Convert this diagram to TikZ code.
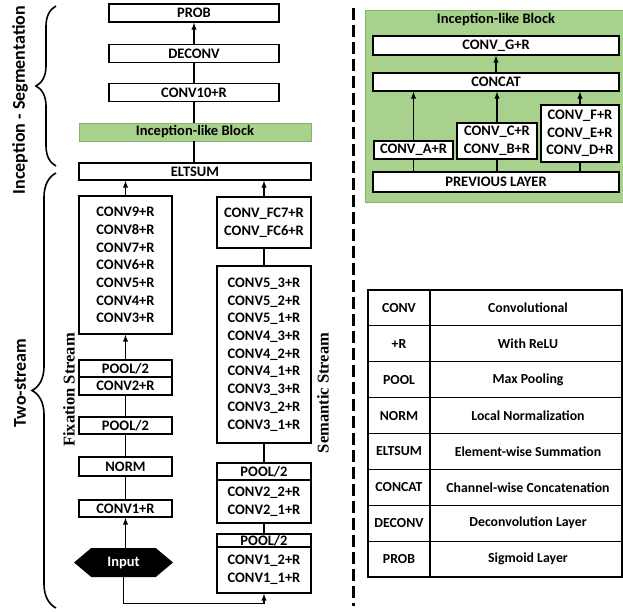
\documentclass[tikz,border=0pt]{standalone}
\usepackage{fontspec}
\setmainfont{Carlito}
\newfontfamily\streamfont{Liberation Serif}
\usepackage{xcolor}
\usepackage{tikz}
\usetikzlibrary{positioning, shapes.symbols, decorations.pathreplacing}

\definecolor{blockgreen}{RGB}{169,209,142}
\definecolor{edgegreen}{RGB}{128,184,98}

\begin{document}
\begin{tikzpicture}[x=1pt, y=-1pt, >=latex,
    layer/.style={draw, line width=1.4pt, fill=white, inner sep=0pt, align=center,
        font=\fontsize{14.5}{17.7}\selectfont\bfseries},
    greenbar/.style={layer, draw=edgegreen, line width=0.8pt, fill=blockgreen},
    link/.style={line width=1.4pt},
    side/.style={font=\fontsize{18}{20}\selectfont\bfseries, rotate=90},
    streamlabel/.style={font=\streamfont\fontsize{16.5}{18}\selectfont\bfseries, rotate=90},
    legend/.style={font=\fontsize{13.8}{16}\selectfont\bfseries}]
    \useasboundingbox (0,0) rectangle (623,611);

    % 1. Segmentation head
    \node[layer, minimum width=170, minimum height=18] (prob) at (194,13) {PROB};
    \node[layer, minimum width=170, minimum height=18] (deconv) at (194,53.5) {DECONV};
    \node[layer, minimum width=170, minimum height=18] (conv10) at (194,92.5) {CONV10+R};
    \node[greenbar, minimum width=232, minimum height=18] (incep) at (195,132) {Inception-like Block};
    \node[layer, minimum width=232, minimum height=17] (eltsum) at (195,171.5) {ELTSUM};

    \draw[link, ->] (deconv.north) -- (prob.south);
    \draw[link] (conv10.north) -- (deconv.south);
    \draw[link] (incep.north -| conv10.south) -- (conv10.south);
    \draw[link] (eltsum.north -| conv10.south) -- (incep.south -| conv10.south);

    % 2. Fixation stream
    \node[layer, minimum width=93, minimum height=138] (fixconv) at (125.5,265)
        {CONV9+R\\CONV8+R\\CONV7+R\\CONV6+R\\CONV5+R\\CONV4+R\\CONV3+R};
    \node[layer, minimum width=93, minimum height=17] (fixpool2) at (125.5,368.5) {POOL/2};
    \node[layer, minimum width=93, minimum height=18] (conv2) at (125.5,386) {CONV2+R};
    \node[layer, minimum width=93, minimum height=17] (fixpool1) at (125.5,425.5) {POOL/2};
    \node[layer, minimum width=93, minimum height=19] (norm) at (125.5,466.5) {NORM};
    \node[layer, minimum width=93, minimum height=17] (conv1) at (125.5,508.5) {CONV1+R};
    \node[signal, signal to=east and west, signal pointer angle=80, fill=black,
        minimum width=99, minimum height=29, inner sep=0pt, text=white,
        font=\fontsize{14.5}{17}\selectfont\bfseries] (input) at (123.5,562.5) {Input};

    \draw[link, ->] (fixconv.north) -- (fixconv.north |- eltsum.south);
    \draw[link, ->] (fixpool2.north) -- (fixconv.south);
    \draw[link] (conv2.south) -- (fixpool1.north);
    \draw[link] (fixpool1.south) -- (norm.north);
    \draw[link] (norm.south) -- (conv1.north);
    \draw[link, ->] (input.north -| conv1.south) -- (conv1.south);

    % 3. Semantic stream
    \node[layer, minimum width=94, minimum height=51] (fc) at (264,222.5) {CONV\_FC7+R\\CONV\_FC6+R};
    \node[layer, minimum width=94, minimum height=177] (semconv) at (264,354.5)
        {CONV5\_3+R\\CONV5\_2+R\\CONV5\_1+R\\CONV4\_3+R\\CONV4\_2+R\\CONV4\_1+R\\CONV3\_3+R\\CONV3\_2+R\\CONV3\_1+R};
    \node[layer, minimum width=94, minimum height=17] (sempool2) at (264,471.5) {POOL/2};
    \node[layer, minimum width=94, minimum height=43] (semconv2) at (264,501.5) {CONV2\_2+R\\CONV2\_1+R};
    \node[layer, minimum width=94, minimum height=13] (sempool1) at (264,540.5) {POOL/2};
    \node[layer, minimum width=94, minimum height=46] (semconv1) at (264,570) {CONV1\_2+R\\CONV1\_1+R};

    \draw[link, ->] (fc.north) -- (fc.north |- eltsum.south);
    \draw[link] (semconv.north) -- (fc.south);
    \draw[link] (sempool2.north) -- (semconv.south);
    \draw[link] (sempool1.north) -- (semconv2.south);
    \draw[link, ->] (input.south) -- ++(0,26) -| (semconv1.south);

    % 4. Braces and side labels
    \draw[line width=1.6pt, decorate, decoration={brace, amplitude=20pt}] (56,166) -- (56,6);
    \draw[line width=1.6pt, decorate, decoration={brace, amplitude=24pt}] (56,608) -- (56,173);
    \node[side] (seglabel) at (20,100) {Inception - Segmentation};
    \node[side] (twolabel) at (20,383) {Two-stream};
    \node[streamlabel] (fixlabel) at (69,390) {Fixation Stream};
    \node[streamlabel] (semlabel) at (323,393) {Semantic Stream};

    % 5. Separator
    \draw[line width=3pt, dash pattern=on 12pt off 5pt] (353,8) -- (353,606);

    % 6. Inception-like block in detail
    \fill[blockgreen] (365,10) rectangle (623,202);
    \draw[edgegreen, line width=0.8pt] (365,10) rectangle (623,202);
    \node[font=\fontsize{14.5}{17}\selectfont\bfseries] (blocktitle) at (496,20) {Inception-like Block};
    \node[layer, minimum width=246, minimum height=19] (convg) at (496,45.5) {CONV\_G+R};
    \node[layer, minimum width=246, minimum height=18] (concat) at (496,82) {CONCAT};
    \node[layer, minimum width=79, minimum height=18] (conva) at (413.5,150) {CONV\_A+R};
    \node[layer, minimum width=80, minimum height=36] (convcb) at (497,141) {CONV\_C+R\\CONV\_B+R};
    \node[layer, minimum width=78, minimum height=57] (convfed) at (580,133.5) {CONV\_F+R\\CONV\_E+R\\CONV\_D+R};
    \node[layer, minimum width=246, minimum height=20] (prev) at (496,182) {PREVIOUS LAYER};

    \draw[link, ->] (concat.north) -- (convg.south);
    \foreach \br in {conva, convcb, convfed} {
        \draw[link] (prev.north -| \br.south) -- (\br.south);
        \draw[link, ->] (\br.north) -- (concat.south -| \br.north);
    }

    % 7. Legend
    \draw[line width=1.2pt] (368,290) rectangle (622,577);
    \draw[line width=1.2pt] (430,290) -- (430,577);
    \foreach \r in {1,...,7}
        \draw[line width=1.2pt] (368,{290+35.875*\r}) -- (622,{290+35.875*\r});
    \foreach \abbr/\desc [count=\r] in {CONV/Convolutional, +R/With ReLU, POOL/Max Pooling,
            NORM/Local Normalization, ELTSUM/Element-wise Summation,
            CONCAT/Channel-wise Concatenation, DECONV/Deconvolution Layer, PROB/Sigmoid Layer} {
        \node[legend] (abbr-\r) at (399,{290+35.875*(\r-0.5)}) {\abbr};
        \node[legend] (desc-\r) at (528,{290+35.875*(\r-0.5)}) {\desc};
    }
\end{tikzpicture}
\end{document}
